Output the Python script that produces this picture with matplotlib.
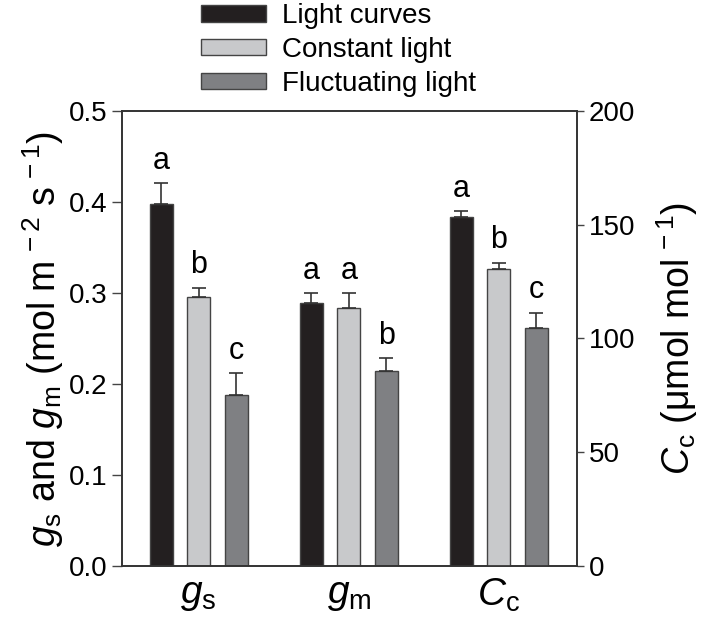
import matplotlib.pyplot as plt
import numpy as np

plt.rcParams['font.family'] = ['Liberation Sans', 'DejaVu Sans']
plt.rcParams['mathtext.fontset'] = 'custom'
plt.rcParams['mathtext.rm'] = 'Liberation Sans'
plt.rcParams['mathtext.it'] = 'Liberation Sans:italic'

# treatments and their values
treatments = ['Light curves', 'Constant light', 'Fluctuating light']
colors = ['#231f20', '#c8c9cb', '#7f8083']

gs_mean = [0.398, 0.296, 0.188]
gs_err = [0.023, 0.010, 0.024]
gm_mean = [0.289, 0.284, 0.214]
gm_err = [0.011, 0.016, 0.014]
cc_mean = [153.5, 130.7, 104.8]
cc_err = [2.6, 2.6, 6.6]

gs_letters = ['a', 'b', 'c']
gm_letters = ['a', 'a', 'b']
cc_letters = ['a', 'b', 'c']

group_labels = [r'$g_{\mathrm{s}}$', r'$g_{\mathrm{m}}$', r'$C_{\mathrm{c}}$']

bar_width = 0.153
offset = 0.25
groups = np.arange(1, 4)

fig = plt.figure(figsize=(7.08, 6.21), dpi=100)
ax = fig.add_axes([0.1723, 0.0886, 0.6427, 0.7327])
ax2 = ax.twinx()

err_kw = dict(ecolor='#333333', elinewidth=1.2, capsize=5, capthick=1.2)

handles = []
for i in range(3):
    x = groups[:2] + (i - 1) * offset
    b = ax.bar(x, [gs_mean[i], gm_mean[i]], width=bar_width, color=colors[i],
               edgecolor='#444444', linewidth=1.0,
               yerr=[[0, 0], [gs_err[i], gm_err[i]]], error_kw=err_kw, zorder=2)
    handles.append(b)
    ax.text(x[0], gs_mean[i] + gs_err[i] + 0.008, gs_letters[i], ha='center', va='bottom', fontsize=22)
    ax.text(x[1], gm_mean[i] + gm_err[i] + 0.008, gm_letters[i], ha='center', va='bottom', fontsize=22)

    xc = groups[2] + (i - 1) * offset
    ax2.bar(xc, cc_mean[i], width=bar_width, color=colors[i],
            edgecolor='#444444', linewidth=1.0,
            yerr=[[0], [cc_err[i]]], error_kw=err_kw, zorder=2)
    ax2.text(xc, cc_mean[i] + cc_err[i] + 3.2, cc_letters[i], ha='center', va='bottom', fontsize=22)

ax.set_xlim(0.49, 3.52)
ax.set_ylim(0, 0.5)
ax2.set_ylim(0, 200)

ax.set_yticks(np.arange(0, 0.51, 0.1))
ax.set_yticklabels(['%.1f' % v for v in np.arange(0, 0.51, 0.1)])
ax2.set_yticks(np.arange(0, 201, 50))

ax.set_xticks(groups)
ax.set_xticklabels(group_labels, fontsize=28)
ax.tick_params(axis='x', length=0, pad=8)
ax.tick_params(axis='y', labelsize=20, length=7, width=1, direction='out', color='#444444')
ax2.tick_params(axis='y', labelsize=20, length=5, width=1, direction='out', color='#444444')

for a in (ax, ax2):
    for s in a.spines.values():
        s.set_linewidth(1.2)
        s.set_color('#333333')

ax.set_ylabel(r'$g_{\mathrm{s}}$ and $g_{\mathrm{m}}$ (mol m$^{\,-2}$ s$^{\,-1}$)', fontsize=27, labelpad=2)
ax2.set_ylabel(r'$C_{\mathrm{c}}$ ($\mathrm{\mu}$mol mol$^{\,-1}$)', fontsize=27, labelpad=14)

fig.legend(handles, treatments, loc='upper left', bbox_to_anchor=(0.248, 1.035),
           frameon=False, fontsize=20, handlelength=2.34, handleheight=0.54,
           labelspacing=0.28, handletextpad=0.6)

fig.savefig('out.png', dpi=100)
